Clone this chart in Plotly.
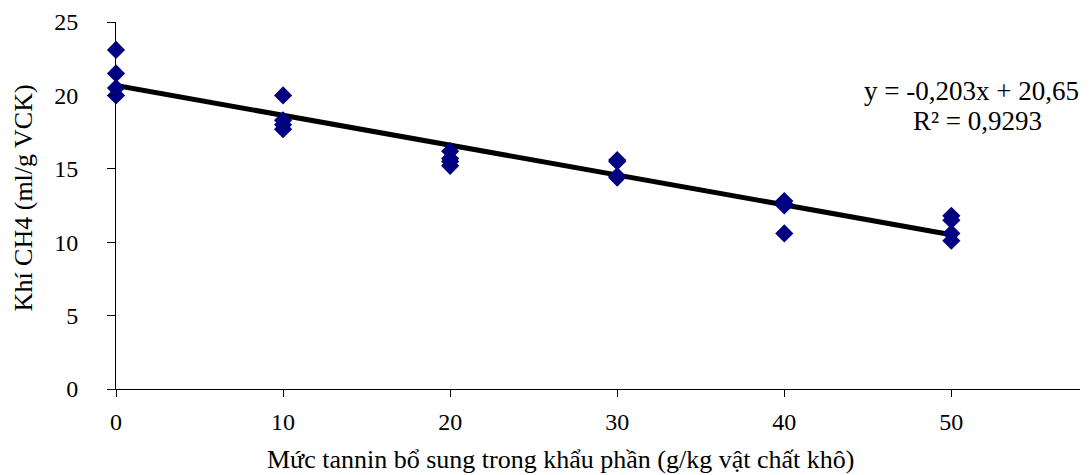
import numpy as np
import plotly.graph_objects as go

# Data
tannin_levels = [0, 0, 0, 0,
                 10, 10, 10, 10,
                 20, 20, 20, 20,
                 30, 30, 30, 30,
                 40, 40, 40, 40,
                 50, 50, 50, 50]
ch4_values = [23.1, 21.5, 20.5, 20.0,
              20.0, 18.3, 18.0, 17.7,
              16.2, 15.7, 15.5, 15.2,
              15.6, 15.5, 14.5, 14.4,
              12.8, 12.6, 12.5, 10.6,
              11.8, 11.5, 10.6, 10.1]
x_ticks = [0, 10, 20, 30, 40, 50]
y_ticks = [0, 5, 10, 15, 20, 25]
equation_lines = ["y = -0,203x + 20,65", "R² = 0,9293"]
x_title = "Mức tannin bổ sung trong khẩu phần (g/kg vật chất khô)"
y_title = "Khí CH4 (ml/g VCK)"

slope, intercept = np.polyfit(tannin_levels, ch4_values, 1)
line_x = [min(tannin_levels), max(tannin_levels)]
line_y = [slope * v + intercept for v in line_x]

FONT = "Liberation Serif, Times New Roman, serif"

fig = go.Figure()
fig.add_trace(go.Scatter(
    x=line_x, y=line_y, mode="lines",
    line=dict(color="black", width=5),
    hoverinfo="skip", showlegend=False, cliponaxis=False,
))
fig.add_trace(go.Scatter(
    x=tannin_levels, y=ch4_values, mode="markers",
    marker=dict(symbol="diamond", size=14, color="#000080"),
    showlegend=False, cliponaxis=False,
))

fig.update_layout(
    width=1089, height=475,
    margin=dict(l=116, r=9, t=20, b=86),
    paper_bgcolor="white", plot_bgcolor="white",
    font=dict(family=FONT, size=24, color="black"),
    xaxis=dict(
        range=[0, 57.7], tickvals=x_ticks, ticktext=[str(v) for v in x_ticks],
        showgrid=False, zeroline=False, showline=True, linecolor="black", linewidth=1,
        ticks="outside", ticklen=7, tickcolor="black", tickwidth=1,
        ticklabelstandoff=4,
        tickfont=dict(family=FONT, size=24, color="black"), fixedrange=True,
    ),
    yaxis=dict(
        range=[0, 25], tickvals=y_ticks, ticktext=[str(v) for v in y_ticks],
        showgrid=False, zeroline=False, showline=True, linecolor="black", linewidth=1,
        ticks="outside", ticklen=8, tickcolor="black", tickwidth=1,
        ticklabelstandoff=24,
        tickfont=dict(family=FONT, size=24, color="black"), fixedrange=True,
    ),
    annotations=[
        dict(text=x_title, xref="paper", yref="paper", x=0.4616, y=-0.193,
             xanchor="center", yanchor="middle", showarrow=False,
             font=dict(family=FONT, size=26, color="black")),
        dict(text=y_title, xref="paper", yref="paper", x=-0.0965, y=0.522,
             xanchor="center", yanchor="middle", showarrow=False, textangle=-90,
             font=dict(family=FONT, size=26, color="black")),
        dict(text=equation_lines[0], xref="paper", yref="paper", x=0.887, y=0.813,
             xanchor="center", yanchor="middle", showarrow=False,
             font=dict(family=FONT, size=27, color="black")),
        dict(text=equation_lines[1], xref="paper", yref="paper", x=0.894, y=0.729,
             xanchor="center", yanchor="middle", showarrow=False,
             font=dict(family=FONT, size=27, color="black")),
    ],
)

fig.write_html("out.html")
